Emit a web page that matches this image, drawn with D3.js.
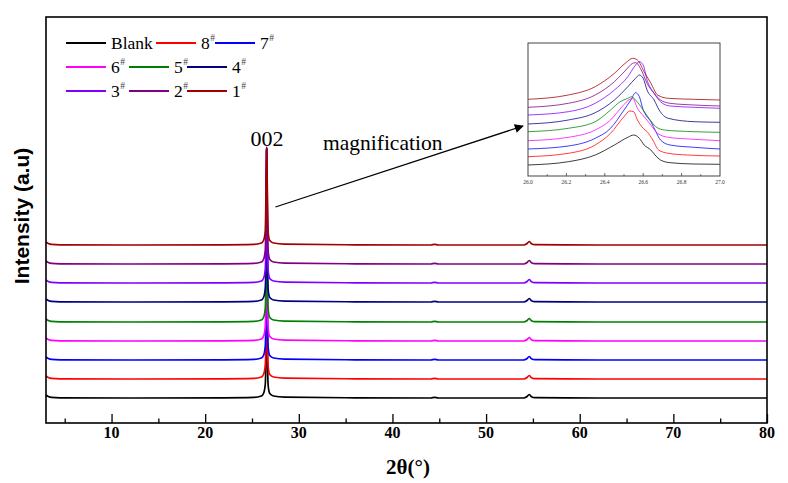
<!DOCTYPE html>
<html>
<head>
<meta charset="utf-8">
<script src="https://cdn.jsdelivr.net/npm/d3@7"></script>
<style>
  html, body { margin: 0; padding: 0; background: #fff; }
  svg { display: block; }
</style>
</head>
<body>
<svg id="chart" width="788" height="483"></svg>
<script>
// ---------------- DATA ----------------
const seriesNames = ["Blank", "8", "7", "6", "5", "4", "3", "2", "1"];
const seriesColors = ["#000000", "#ff0000", "#0000ff", "#ff00ff", "#008000", "#000080", "#8000ff", "#800080", "#a00000"];

const xTicks = [10, 20, 30, 40, 50, 60, 70, 80];
const insetTicks = [26.0, 26.2, 26.4, 26.6, 26.8, 27.0];

// main pattern: shared 2theta grid, stacked intensities (a.u.)
const mainX = [3, 3.25, 3.6, 4.5, 12, 22, 25.2, 26.0, 26.25, 26.42, 26.52, 26.57, 26.63, 26.73, 26.9, 27.3, 28.5, 36, 44.1, 44.5, 44.9, 54.0, 54.35, 54.6, 54.85, 55.2, 62, 72, 80];
const mainBlank = [28, 26.5, 25.6, 25.2, 25, 25.2, 25.6, 27, 30, 39, 95, 272, 85, 37, 29.5, 27, 25.8, 25.2, 25, 25.6, 25, 25, 26.3, 28.5, 26.3, 25.3, 25, 25, 25];
const main8 = [47, 45.5, 44.6, 44.2, 44, 44.2, 44.6, 46, 49, 58, 114, 273, 104, 56, 48.5, 46, 44.8, 44.2, 44, 44.6, 44, 44, 45.3, 47.5, 45.3, 44.3, 44, 44, 44];
const main7 = [66, 64.5, 63.6, 63.2, 63, 63.2, 63.6, 65, 68, 77, 133, 273, 123, 75, 67.5, 65, 63.8, 63.2, 63, 63.6, 63, 63, 64.3, 66.5, 64.3, 63.3, 63, 63, 63];
const main6 = [85, 83.5, 82.6, 82.2, 82, 82.2, 82.6, 84, 87, 96, 152, 274, 142, 94, 86.5, 84, 82.8, 82.2, 82, 82.6, 82, 82, 83.3, 85.5, 83.3, 82.3, 82, 82, 82];
const main5 = [104, 102.5, 101.6, 101.2, 101, 101.2, 101.6, 103, 106, 115, 171, 274, 161, 113, 105.5, 103, 101.8, 101.2, 101, 101.6, 101, 101, 102.3, 104.5, 102.3, 101.3, 101, 101, 101];
const main4 = [124, 122.5, 121.6, 121.2, 121, 121.2, 121.6, 123, 126, 135, 191, 274, 181, 133, 125.5, 123, 121.8, 121.2, 121, 121.6, 121, 121, 122.3, 124.5, 122.3, 121.3, 121, 121, 121];
const main3 = [143, 141.5, 140.6, 140.2, 140, 140.2, 140.6, 142, 145, 154, 210, 275, 200, 152, 144.5, 142, 140.8, 140.2, 140, 140.6, 140, 140, 141.3, 143.5, 141.3, 140.3, 140, 140, 140];
const main2 = [162, 160.5, 159.6, 159.2, 159, 159.2, 159.6, 161, 164, 173, 229, 275, 219, 171, 163.5, 161, 159.8, 159.2, 159, 159.6, 159, 159, 160.3, 162.5, 160.3, 159.3, 159, 159, 159];
const main1 = [181, 179.5, 178.6, 178.2, 178, 178.2, 178.6, 180, 183, 192, 248, 276, 238, 190, 182.5, 180, 178.8, 178.2, 178, 178.6, 178, 178, 179.3, 181.5, 179.3, 178.3, 178, 178, 178];
const mainSeries = [mainBlank, main8, main7, main6, main5, main4, main3, main2, main1];

// magnified 002 region: [2theta, intensity]
const insBlank = [[26.0,11],[26.21,14.3],[26.35,21],[26.45,31],[26.52,38.7],[26.55,41],[26.58,37.7],[26.605,31],[26.64,26],[26.666,20],[26.69,16],[26.74,13.3],[26.865,12],[27.0,11.7]];
const ins8 = [[26.0,19.3],[26.21,22.7],[26.35,31],[26.43,42.7],[26.5,59.3],[26.53,65],[26.55,64.3],[26.57,56],[26.6,47.7],[26.62,44.3],[26.65,36],[26.68,26],[26.73,22.7],[26.83,21],[27.0,20]];
const ins7 = [[26.0,27],[26.21,30],[26.35,37.7],[26.43,47.7],[26.5,66],[26.536,76],[26.56,83.3],[26.58,79.3],[26.6,66],[26.614,61],[26.64,54.3],[26.666,44.3],[26.69,36],[26.74,31],[26.865,28.7],[27.0,27]];
const ins6 = [[26.0,35.3],[26.21,38.7],[26.35,46],[26.43,56],[26.49,69.3],[26.53,76.7],[26.545,77.7],[26.57,67.7],[26.605,59.3],[26.64,51],[26.675,42.7],[26.73,38.7],[26.865,36.7],[27.0,35.3]];
const ins5 = [[26.0,44.3],[26.21,47.7],[26.35,54.3],[26.43,66],[26.48,74.3],[26.52,77.7],[26.54,79.3],[26.56,76],[26.6,66],[26.63,57.7],[26.666,49.3],[26.71,46],[26.865,44.3],[27.0,43.7]];
const ins4 = [[26.0,52],[26.21,56],[26.35,63.3],[26.45,76],[26.52,89.3],[26.56,97.7],[26.58,101],[26.6,97.7],[26.62,86],[26.657,76],[26.683,66],[26.73,57.7],[26.865,54.3],[27.0,53.7]];
const ins3 = [[26.0,61],[26.21,64.3],[26.35,72.7],[26.45,86],[26.52,99.3],[26.554,109.3],[26.58,114.3],[26.6,111],[26.62,96],[26.657,82.7],[26.69,74.3],[26.74,70],[26.865,68.7],[27.0,67.7]];
const ins2 = [[26.0,68.7],[26.21,72.7],[26.35,81],[26.45,94.3],[26.51,106],[26.545,112.7],[26.56,113.3],[26.59,106],[26.62,92.7],[26.657,82.7],[26.69,76],[26.74,72.7],[26.865,71],[27.0,70]];
const ins1 = [[26.0,76.7],[26.21,81],[26.35,89.3],[26.45,102.7],[26.51,113.3],[26.545,117.7],[26.57,116],[26.605,104.3],[26.64,92.7],[26.675,81],[26.73,77.7],[26.865,76.7],[27.0,76]];
const insetSeries = [insBlank, ins8, ins7, ins6, ins5, ins4, ins3, ins2, ins1];

// ---------------- DRAW ----------------
const svg = d3.select("#chart");
const serif = "'Liberation Serif', 'Times New Roman', serif";
const sans = "'Liberation Sans', Arial, sans-serif";

const L = 46, R = 767, T = 17, B = 423;
const x = d3.scaleLinear().domain([3, 80]).range([L, R]);
const y = d3.scaleLinear().domain([0, 406]).range([B, T]);

// lines
const line = d3.line().x(d => x(d[0])).y(d => y(d[1])).curve(d3.curveMonotoneX);
const gMain = svg.append("g");
mainSeries.forEach((vals, i) => {
  const pts = mainX.map((xx, j) => [xx, vals[j]]);
  gMain.append("path").datum(pts)
    .attr("d", line).attr("fill", "none")
    .attr("stroke", seriesColors[i]).attr("stroke-width", 1.7)
    .attr("stroke-linejoin", "round");
});

// frame
svg.append("rect").attr("x", L).attr("y", T).attr("width", R - L).attr("height", B - T)
  .attr("fill", "none").attr("stroke", "#000").attr("stroke-width", 1.6);

// x axis ticks (inward)
const xAxis = d3.axisBottom(x).tickValues(d3.range(5, 81, 5)).tickSize(0).tickFormat("");
const gx = svg.append("g").attr("transform", `translate(0,${B})`).call(xAxis);
gx.select(".domain").remove();
gx.selectAll(".tick").append("line")
  .attr("y1", 0).attr("y2", d => (d % 10 === 0 ? -9 : -4.5))
  .attr("stroke", "#000").attr("stroke-width", 1.3);
svg.append("g").selectAll("text").data(xTicks).join("text")
  .attr("x", d => x(d)).attr("y", 437.5)
  .attr("text-anchor", "middle")
  .attr("font-family", serif).attr("font-weight", "bold").attr("font-size", 16)
  .text(d => d);

// axis titles
svg.append("text").attr("x", 408).attr("y", 474).attr("text-anchor", "middle")
  .attr("font-family", serif).attr("font-weight", "bold").attr("font-size", 21)
  .text("2θ(°)");
svg.append("text").attr("transform", "translate(29,216) rotate(-90)")
  .attr("text-anchor", "middle")
  .attr("font-family", sans).attr("font-weight", "bold").attr("font-size", 21)
  .text("Intensity (a.u)");

// legend
const legendPos = [
  [66, 43], [156, 43], [215, 43],
  [66, 67], [129, 67], [187, 67],
  [66, 91], [129, 91], [187, 91]
];
const gLeg = svg.append("g");
seriesNames.forEach((name, i) => {
  const [lx, ly] = legendPos[i];
  gLeg.append("line").attr("x1", lx).attr("x2", lx + 40).attr("y1", ly).attr("y2", ly)
    .attr("stroke", seriesColors[i]).attr("stroke-width", 2);
  const t = gLeg.append("text").attr("x", lx + 45).attr("y", ly + 6.3)
    .attr("font-family", serif).attr("font-size", 17.5).attr("fill", "#000");
  t.append("tspan").text(name);
  if (name !== "Blank") {
    t.append("tspan").attr("font-size", 9.5).attr("dy", -8).attr("dx", 0.5).attr("fill", "#444").text("#");
  }
});

// 002 label
svg.append("text").attr("x", x(26.6)).attr("y", 146).attr("text-anchor", "middle")
  .attr("font-family", serif).attr("font-size", 22).text("002");

// magnification
svg.append("text").attr("x", 323).attr("y", 150)
  .attr("font-family", serif).attr("font-size", 21.5).text("magnification");

// inset
const iL = 528, iR = 720, iT = 43, iB = 176;
const xi = d3.scaleLinear().domain([26.0, 27.0]).range([iL, iR]);
const yi = d3.scaleLinear().domain([0, 133]).range([iB, iT]);

// arrow
const defs = svg.append("defs");
defs.append("marker").attr("id", "arrowhead").attr("viewBox", "0 0 10 10")
  .attr("refX", 9).attr("refY", 5).attr("markerWidth", 15).attr("markerHeight", 9)
  .attr("markerUnits", "userSpaceOnUse").attr("orient", "auto")
  .append("path").attr("d", "M0,0 L10,5 L0,10 z").attr("fill", "#000");
svg.append("line")
  .attr("x1", x(27.5)).attr("y1", y(216))
  .attr("x2", iL - 5).attr("y2", 126)
  .attr("stroke", "#000").attr("stroke-width", 1.2)
  .attr("marker-end", "url(#arrowhead)");

const lineI = d3.line().x(d => xi(d[0])).y(d => yi(d[1])).curve(d3.curveMonotoneX);
const gIns = svg.append("g");
insetSeries.forEach((pts, i) => {
  gIns.append("path").datum(pts).attr("d", lineI).attr("fill", "none")
    .attr("stroke", seriesColors[i]).attr("stroke-width", 0.9).attr("stroke-opacity", 0.85);
});
svg.append("rect").attr("x", iL).attr("y", iT).attr("width", iR - iL).attr("height", iB - iT)
  .attr("fill", "none").attr("stroke", "#444").attr("stroke-width", 1);

const gxi = svg.append("g");
gxi.selectAll("line").data(d3.range(1, 10).map(k => 26 + k * 0.1)).join("line")
  .attr("x1", d => xi(d)).attr("x2", d => xi(d))
  .attr("y1", iB).attr("y2", (d, k) => (k % 2 === 1 ? iB - 3 : iB - 1.8))
  .attr("stroke", "#444").attr("stroke-width", 0.8);
gxi.selectAll("text").data(insetTicks).join("text")
  .attr("x", d => xi(d)).attr("y", 184)
  .attr("text-anchor", "middle")
  .attr("font-family", serif).attr("font-size", 5.5).attr("fill", "#333")
  .text(d => d.toFixed(1));
</script>
</body>
</html>
